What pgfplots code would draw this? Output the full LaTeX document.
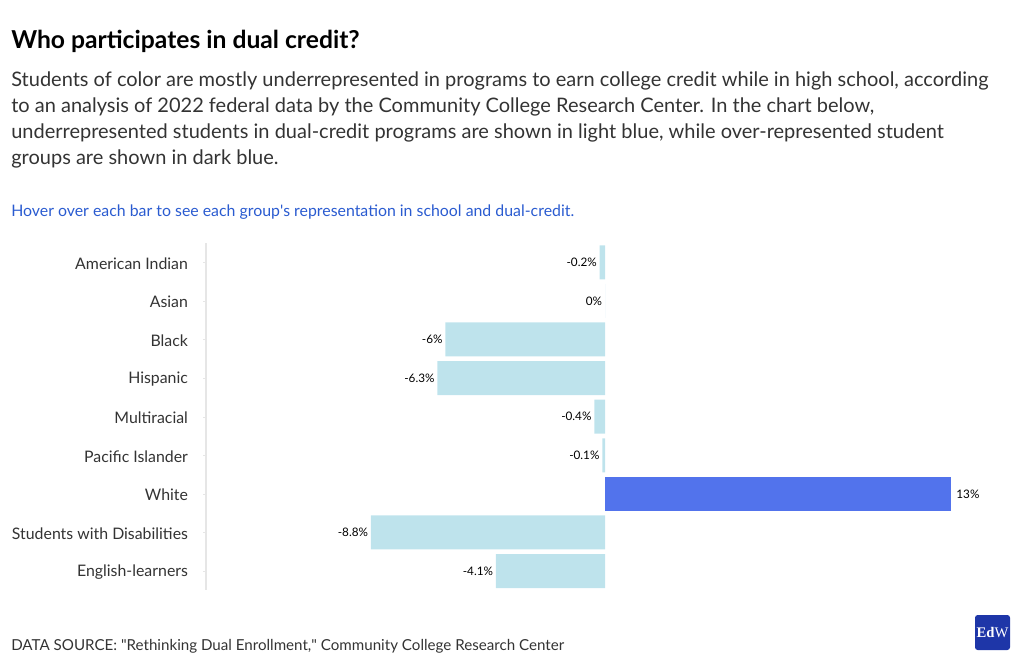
\documentclass[border=0pt]{standalone}
\usepackage{pgfplots}
\pgfplotsset{compat=1.18}
\usepackage{fontspec}
\setmainfont{Lato}
\newfontfamily\rawfont{Lato}
\newfontfamily\logofont{Liberation Serif}
\definecolor{lightbar}{HTML}{BEE3EC}
\definecolor{darkbar}{HTML}{5273EC}
\definecolor{txt}{HTML}{333333}
\definecolor{note}{HTML}{2A5BD0}
\definecolor{axisgrey}{HTML}{E6E6E6}
\definecolor{logoblue}{HTML}{1E36A8}
\begin{document}
\begin{tikzpicture}[x=0.75pt,y=-0.75pt]
\path[use as bounding box] (0,0) rectangle (1020,665);
\coordinate (A) at (206,243);
\node[anchor=base west,inner sep=0pt,font=\fontsize{18.5}{22}\selectfont\bfseries] at (11,48) {Who participates in dual credit?};
\node[anchor=north west,inner sep=0pt,align=left,text=txt,font=\fontsize{15}{19.7}\selectfont] at (11,71) {Students of color are mostly underrepresented in programs to earn college credit while in high school, according\\to an analysis of 2022 federal data by the Community College Research Center. In the chart below,\\underrepresented students in dual-credit programs are shown in light blue, while over-represented student\\groups are shown in dark blue.};
\node[anchor=base west,inner sep=0pt,text=note,font=\fontsize{11.9}{14}\selectfont] at (11,216) {Hover over each bar to see each group{\rawfont'}s representation in school and dual-credit.};
\node[anchor=base west,inner sep=0pt,text=txt,font=\fontsize{11.35}{13}\selectfont] at (11,650) {DATA SOURCE: {\rawfont"}Rethinking Dual Enrollment,{\rawfont"} Community College Research Center};
\fill[logoblue,rounded corners=2pt] (975,615) rectangle (1010,650);
\node[text=white,inner sep=0pt,font=\logofont\fontsize{11}{12}\selectfont] at (992.5,632.5) {\textbf{Ed}W};
\begin{axis}[
  at={(A)}, anchor=north west,
  scale only axis, width=598.5pt, height=260.5pt,
  xmin=-15, xmax=15, ymin=-0.5, ymax=8.5, y dir=reverse,
  axis x line=none,
  axis y line=left,
  axis line style={-,draw=axisgrey,line width=1.5pt},
  ytick={0,...,8},
  yticklabels={American Indian,Asian,Black,Hispanic,Multiracial,Pacific Islander,White,Students with Disabilities,English-learners},
  yticklabel style={text=txt,font=\fontsize{11.9}{14}\selectfont,xshift=-8pt,yshift=-1pt},
  major tick length=2pt,
  tick style={draw=axisgrey},
  xbar, bar width=25.5pt, bar shift=0pt,
  clip=false,
  point meta=explicit symbolic,
  nodes near coords,
  nodes near coords style={font=\fontsize{8.8}{10}\selectfont,text=black,inner sep=2pt},
]
\addplot[fill=lightbar,draw=none,every node near coord/.append style={anchor=east}] coordinates {
(-0.2,0) [-0.2\%]
(0,1) [0\%]
(-6,2) [-6\%]
(-6.3,3) [-6.3\%]
(-0.4,4) [-0.4\%]
(-0.1,5) [-0.1\%]
(-8.8,7) [-8.8\%]
(-4.1,8) [-4.1\%]
};
\addplot[fill=darkbar,draw=none,every node near coord/.append style={anchor=west,xshift=2pt}] coordinates {
(13,6) [13\%]
};
\end{axis}
\end{tikzpicture}
\end{document}
